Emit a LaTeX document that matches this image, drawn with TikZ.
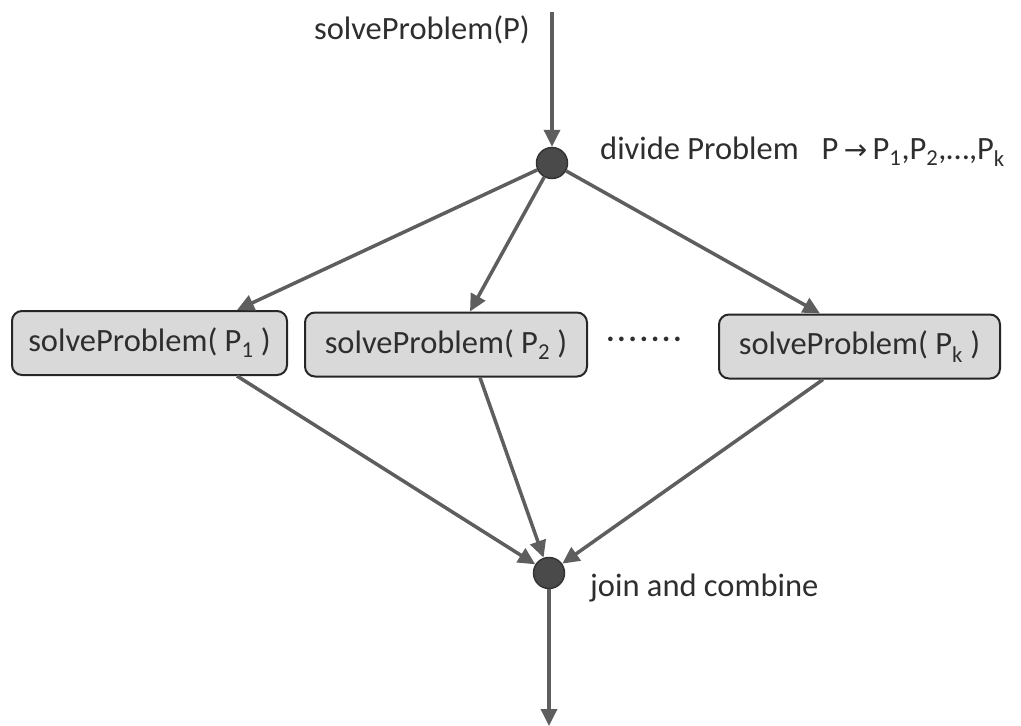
\documentclass[tikz,border=0pt]{standalone}
\usepackage{fontspec}
\setmainfont{Carlito}
\newfontfamily\symfont{DejaVu Sans}
\usetikzlibrary{arrows.meta}
\definecolor{linegray}{HTML}{5E5E5E}
\definecolor{dotgray}{HTML}{4A4A4A}
\definecolor{boxfill}{HTML}{D9D9D9}
\definecolor{txtgray}{HTML}{2E2E2E}
\tikzset{
  conn/.style={draw=linegray, line width=3.5pt, -{Triangle[length=17pt,width=16pt]}},
  joint/.style={circle, fill=dotgray, draw=black!80, line width=1.5pt, minimum size=31pt, inner sep=0pt},
  probbox/.style={rectangle, rounded corners=10pt, fill=boxfill, draw=black!85, line width=2pt, minimum height=64pt, inner sep=0pt, text=txtgray, font=\fontsize{32.5}{38}\selectfont},
  lbl/.style={text=txtgray, inner sep=0pt, font=\fontsize{32.5}{38}\selectfont}
}
\begin{document}
\begin{tikzpicture}[x=1pt,y=-1pt]
\useasboundingbox (0,0) rectangle (1021,726);
\node[joint] (d1) at (552,163) {};
\node[joint] (d2) at (549,573) {};
\coordinate (in) at (552,12);
\coordinate (out) at (549,726);
\node[lbl, anchor=east] (tin) at (530,30) {solveProblem(P)};
\node[lbl, anchor=west] (tdiv) at (600,152) {divide Problem\hspace{0.7em}P\,{\symfont\fontsize{28}{30}\selectfont →}\,P\textsubscript{1},P\textsubscript{2},…,P\textsubscript{k}};
\node[lbl, anchor=west] (tjoin) at (590,588) {join and combine};
\node[probbox, minimum width=275pt] (b1) at (149.5,343) {solveProblem( P\textsubscript{1} )};
\node[probbox, minimum width=282pt] (b2) at (446,344.5) {solveProblem( P\textsubscript{2} )};
\node[probbox, minimum width=281pt] (b3) at (859.5,346.5) {solveProblem( P\textsubscript{k} )};
\node[lbl] (dots) at (644,343) {·\hspace{3pt}·\hspace{3pt}·\hspace{3pt}·\hspace{3pt}·\hspace{3pt}·\hspace{3pt}·};
\draw[conn] (in) -- (d1);
\draw[conn] (d1) -- ([xshift=87.5pt]b1.north);
\draw[conn] (d1) -- ([xshift=24pt]b2.north);
\draw[conn] (d1) -- ([xshift=-39.5pt]b3.north);
\draw[conn] ([xshift=87.5pt]b1.south) -- (d2);
\draw[conn] ([xshift=34pt]b2.south) -- (d2);
\draw[conn] ([xshift=-36.5pt]b3.south) -- (d2);
\draw[conn] (d2) -- (out);
\end{tikzpicture}
\end{document}
